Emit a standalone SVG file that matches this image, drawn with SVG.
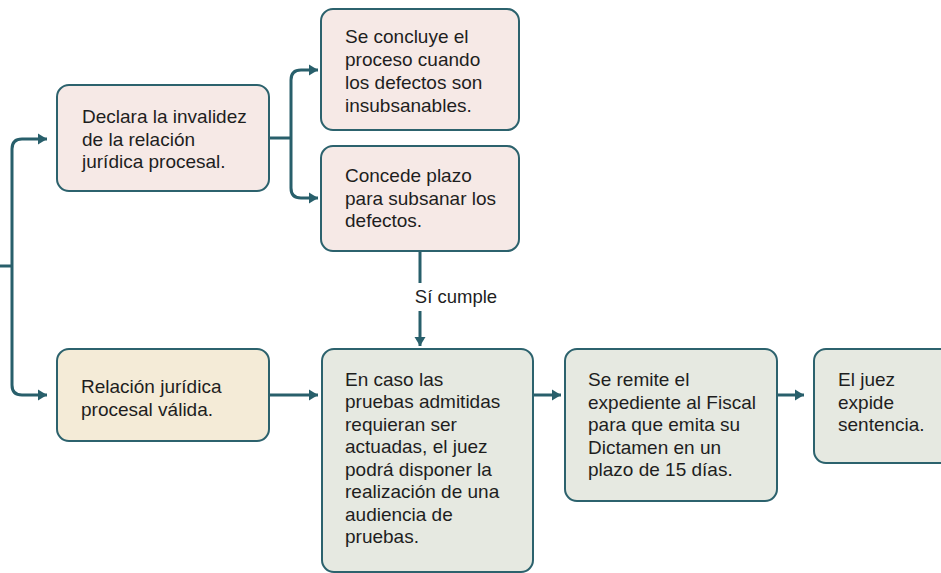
<svg xmlns="http://www.w3.org/2000/svg" width="941" height="573" viewBox="0 0 941 573">
<defs>
<marker id="ah" markerUnits="userSpaceOnUse" markerWidth="10" markerHeight="12" refX="9" refY="6" orient="auto">
<path d="M0,0.5 L9,6 L0,11.5 Z" fill="#285f6b"/>
</marker>
<style>
.box{stroke:#2c626d;stroke-width:2}
.pink{fill:#f6e9e6}
.beige{fill:#f4ebd7}
.green{fill:#e6e9e1}
.t{font-family:"Liberation Sans",Arial,sans-serif;font-size:19px;fill:#1e1e1e}
.s{font-size:18.5px}
.c{fill:none;stroke:#285f6b;stroke-width:3}
.a{marker-end:url(#ah)}
</style>
</defs>
<rect width="941" height="573" fill="#ffffff"/>
<g id="connectors">
<path class="c" d="M0,266 H12"/>
<path class="c a" d="M12,266 V149 Q12,139 22,139 H47"/>
<path class="c a" d="M12,266 V385 Q12,395 22,395 H47"/>
<path class="c" d="M269,138 H291"/>
<path class="c a" d="M291,138 V80 Q291,70 301,70 H318"/>
<path class="c a" d="M291,138 V188 Q291,198 301,198 H318"/>
<path class="c" d="M420,251 V283"/>
<path class="c a" d="M420,311 V346"/>
<path class="c a" d="M269,395 H318"/>
<path class="c a" d="M533,395 H561"/>
<path class="c a" d="M777,395 H804"/>
<text class="t s" x="456" y="303" text-anchor="middle">Sí cumple</text>
</g>
<g id="n-declara">
<rect class="box pink" x="57" y="85" width="212" height="106" rx="12"/>
<text class="t" x="82" y="123">Declara la invalidez</text>
<text class="t" x="82" y="145.5">de la relación</text>
<text class="t" x="82" y="168">jurídica procesal.</text>
</g>
<g id="n-concluye">
<rect class="box pink" x="321" y="9" width="198" height="121" rx="12"/>
<text class="t" x="345" y="43">Se concluye el</text>
<text class="t" x="345" y="66">proceso cuando</text>
<text class="t" x="345" y="89">los defectos son</text>
<text class="t" x="345" y="112">insubsanables.</text>
</g>
<g id="n-concede">
<rect class="box pink" x="321" y="146" width="198" height="105" rx="12"/>
<text class="t" x="345" y="182">Concede plazo</text>
<text class="t" x="345" y="204.5">para subsanar los</text>
<text class="t" x="345" y="227">defectos.</text>
</g>
<g id="n-valida">
<rect class="box beige" x="57" y="349" width="212" height="92" rx="12"/>
<text class="t" x="81" y="393">Relación jurídica</text>
<text class="t" x="81" y="415.5">procesal válida.</text>
</g>
<g id="n-pruebas">
<rect class="box green" x="322" y="349" width="211" height="223" rx="12"/>
<text class="t" x="345" y="385.5">En caso las</text>
<text class="t" x="345" y="408">pruebas admitidas</text>
<text class="t" x="345" y="430.5">requieran ser</text>
<text class="t" x="345" y="453">actuadas, el juez</text>
<text class="t" x="345" y="475.5">podrá disponer la</text>
<text class="t" x="345" y="498">realización de una</text>
<text class="t" x="345" y="520.5">audiencia de</text>
<text class="t" x="345" y="543">pruebas.</text>
</g>
<g id="n-fiscal">
<rect class="box green" x="565" y="349" width="212" height="152" rx="12"/>
<text class="t" x="588" y="386">Se remite el</text>
<text class="t" x="588" y="408.5">expediente al Fiscal</text>
<text class="t" x="588" y="431">para que emita su</text>
<text class="t" x="588" y="453.5">Dictamen en un</text>
<text class="t" x="588" y="476">plazo de 15 días.</text>
</g>
<g id="n-sentencia">
<rect class="box green" x="814" y="349" width="140" height="114" rx="12"/>
<text class="t" x="838" y="386">El juez</text>
<text class="t" x="838" y="408.5">expide</text>
<text class="t" x="838" y="431">sentencia.</text>
</g>
</svg>
